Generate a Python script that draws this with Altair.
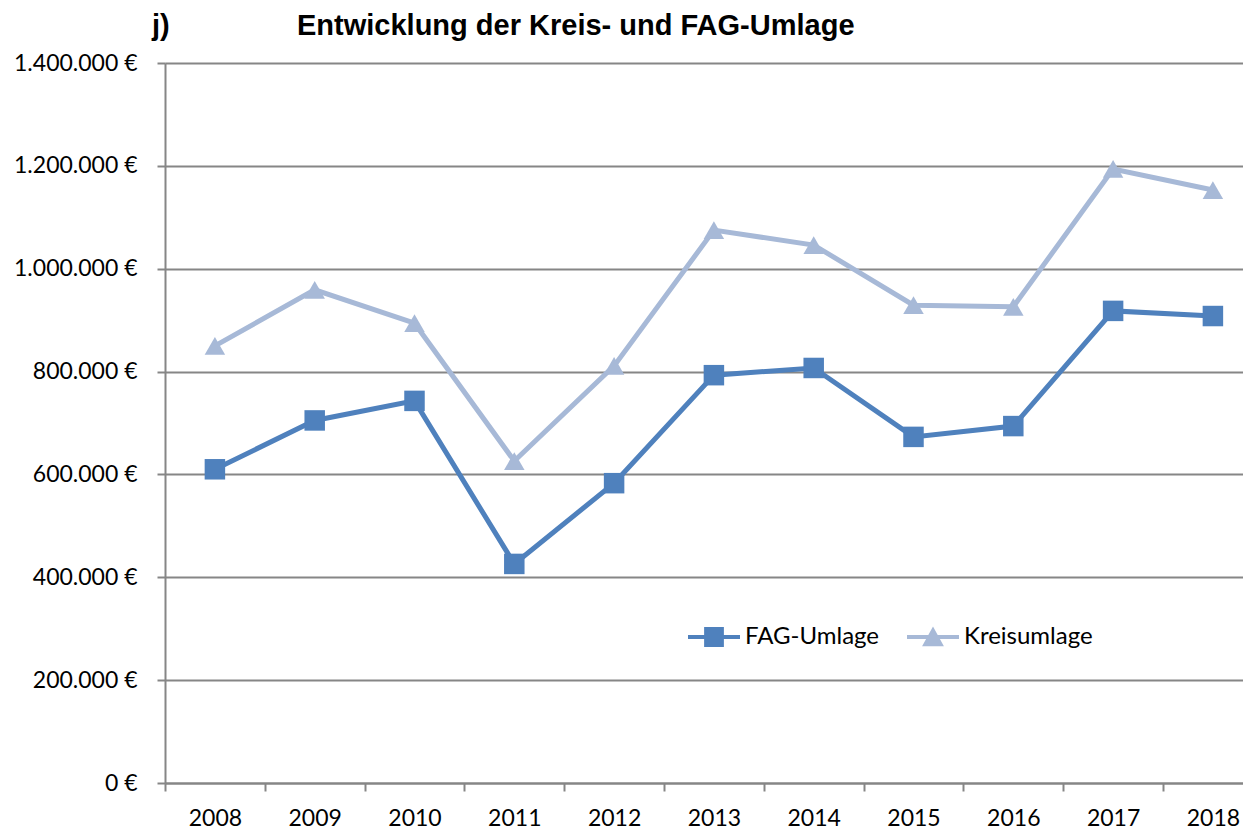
import altair as alt
import pandas as pd

years = [2008, 2009, 2010, 2011, 2012, 2013, 2014, 2015, 2016, 2017, 2018]
fag_umlage = [610000, 705000, 743000, 426000, 583000, 793000, 807000, 673000, 694000, 918000, 908000]
kreisumlage = [850000, 959000, 894000, 626000, 811000, 1075000, 1046000, 929000, 926000, 1194000, 1153000]
series_names = ["FAG-Umlage", "Kreisumlage"]
series_colors = ["#4F81BD", "#A7B9D7"]
series_markers = ["square", "triangle-up"]
y_ticks = [0, 200000, 400000, 600000, 800000, 1000000, 1200000, 1400000]

rows = []
for name, vals in zip(series_names, [fag_umlage, kreisumlage]):
    for yr, v in zip(years, vals):
        rows.append({"Jahr": yr, "Wert": v, "Reihe": name})
df = pd.DataFrame(rows)

W = 1078
H = 720
STEP = 99.8
x_domain = [years[0] - 0.5, years[0] - 0.5 + W / STEP]
x_tick_values = [years[0] - 0.5 + i * 0.5 for i in range(2 * len(years) + 1)]

label_font = "Lato"
grid_col = "#868686"

x_enc = alt.X(
    "Jahr:Q",
    scale=alt.Scale(domain=x_domain, nice=False, zero=False),
    axis=alt.Axis(
        title=None,
        values=x_tick_values,
        labelExpr="datum.value % 1 === 0 ? '' + datum.value : ''",
        tickOpacity=alt.ExprRef("datum.value % 1 === 0 ? 0 : 1"),
        grid=False,
        domainColor=grid_col,
        domainWidth=2,
        tickColor=grid_col,
        tickWidth=2,
        tickSize=8,
        labelPadding=16,
        labelFont=label_font,
        labelFontSize=23,
        labelColor="#000000",
        labelFlush=False,
        labelOverlap=False,
    ),
)
y_enc = alt.Y(
    "Wert:Q",
    scale=alt.Scale(domain=[0, 1400000], nice=False),
    axis=alt.Axis(
        title=None,
        values=y_ticks,
        labelExpr="replace(replace(format(datum.value, ','), ',', '.'), ',', '.') + ' €'",
        grid=True,
        gridColor=grid_col,
        gridWidth=2,
        domainColor=grid_col,
        domainWidth=2,
        tickColor=grid_col,
        tickWidth=2,
        tickSize=8,
        labelPadding=20,
        labelFont=label_font,
        labelFontSize=23,
        labelColor="#000000",
    ),
)
color_scale = alt.Scale(domain=series_names, range=series_colors)

# legend symbols: line segment + marker as filled SVG paths
legend_shapes = [
    "M-1,-0.077H1V0.077H-1Z M-0.38,-0.38H0.38V0.38H-0.38Z",
    "M-1,-0.077H1V0.077H-1Z M0,-0.4L0.42,0.36H-0.42Z",
]

legend_cfg = dict(
    title=None,
    orient="none",
    legendX=523,
    legendY=548,
    direction="horizontal",
    symbolSize=2704,
    symbolOpacity=1,
    symbolStrokeWidth=0,
    labelFont=label_font,
    labelFontSize=24,
    labelColor="#000000",
    labelOffset=5,
    columnPadding=27,
)

color_enc = alt.Color("Reihe:N", scale=color_scale, legend=alt.Legend(**legend_cfg))

lines = alt.Chart(df).mark_line(strokeWidth=5).encode(
    x=x_enc,
    y=y_enc,
    color=color_enc,
)

legend_layer = alt.Chart(df).mark_point(filled=True, opacity=0, size=10).encode(
    x=x_enc,
    y=y_enc,
    color=color_enc,
    shape=alt.Shape(
        "Reihe:N",
        scale=alt.Scale(domain=series_names, range=legend_shapes),
        legend=alt.Legend(**legend_cfg),
    ),
)

point_layers = []
for name, marker in zip(series_names, series_markers):
    point_layers.append(
        alt.Chart(df)
        .transform_filter(alt.datum.Reihe == name)
        .mark_point(filled=True, opacity=1, size=420, shape=marker)
        .encode(
            x=x_enc,
            y=y_enc,
            color=color_enc,
        )
    )

title_df = pd.DataFrame({"t": ["j)", "Entwicklung der Kreis- und FAG-Umlage"], "px": [-13, 132]})
titles = alt.Chart(title_df).mark_text(
    font="Liberation Sans", fontWeight="bold", fontSize=29, align="left", baseline="alphabetic", color="#000000"
).encode(
    text="t:N",
    x=alt.X("px:Q", scale=None),
    y=alt.value(-28),
)

chart = alt.layer(lines, *point_layers, legend_layer, titles).properties(
    width=W,
    height=H,
    autosize=alt.AutoSizeParams(type="none"),
    padding={"left": 157, "top": 55, "right": 0, "bottom": 46},
).configure_view(stroke=None).configure(background="white")

chart.save("out.html", embed_options={"renderer": "svg", "actions": False})
